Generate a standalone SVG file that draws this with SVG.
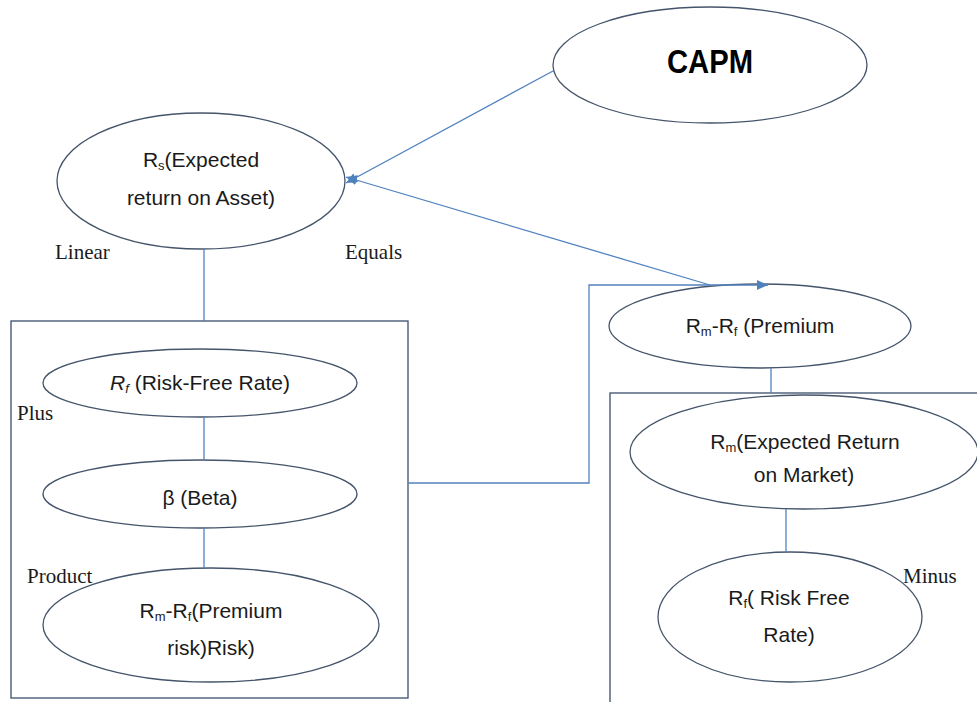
<svg xmlns="http://www.w3.org/2000/svg" width="977" height="702" viewBox="0 0 977 702">
<defs>
<style>
.node{fill:#ffffff;stroke:#44546a;stroke-width:1.3}
.box{fill:none;stroke:#3b4f6d;stroke-width:1.3}
.conn{fill:none;stroke:#5182c0;stroke-width:1.3}
.t{font-family:"Liberation Sans",Arial,sans-serif;font-size:21px;fill:#1a1a1a;text-anchor:middle}
.s{font-size:13px}
.lbl{font-family:"Liberation Serif","Times New Roman",serif;font-size:21px;fill:#1a1a1a}
</style>
<marker id="ah" viewBox="0 0 11 10" refX="11" refY="5" markerWidth="11" markerHeight="10" markerUnits="userSpaceOnUse" orient="auto">
<path d="M0,0 L11,5 L0,10 z" fill="#4f81bd"/>
</marker>
</defs>
<rect width="977" height="702" fill="#ffffff"/>

<g id="boxes">
<rect class="box" x="11" y="321" width="397" height="377"/>
<rect class="box" x="610" y="393" width="400" height="400"/>
</g>

<g id="capm">
<ellipse class="node" cx="710" cy="65" rx="157" ry="58"/>
<text x="710" y="73" font-family="'Liberation Sans',Arial,sans-serif" font-size="33" font-weight="bold" text-anchor="middle" textLength="86" lengthAdjust="spacingAndGlyphs" fill="#000">CAPM</text>
</g>

<g id="rs">
<ellipse class="node" cx="201" cy="181" rx="144" ry="68"/>
<text class="t" x="201" y="167">R<tspan class="s" dy="3">s</tspan><tspan dy="-3">(Expected</tspan></text>
<text class="t" x="201" y="205">return on Asset)</text>
</g>

<g id="rf">
<ellipse class="node" cx="200" cy="383" rx="157" ry="34"/>
<text class="t" x="200" y="390"><tspan font-style="italic">R</tspan><tspan class="s" font-style="italic" dy="3">f</tspan><tspan dy="-3"> (Risk-Free Rate)</tspan></text>
</g>

<g id="beta">
<ellipse class="node" cx="200" cy="494" rx="157" ry="34"/>
<text class="t" x="200" y="505">β (Beta)</text>
</g>

<g id="premiumrisk">
<ellipse class="node" cx="211" cy="625" rx="168" ry="57"/>
<text class="t" x="211" y="618">R<tspan class="s" dy="3">m</tspan><tspan dy="-3">-R</tspan><tspan class="s" dy="3">f</tspan><tspan dy="-3">(Premium</tspan></text>
<text class="t" x="211" y="655">risk)Risk)</text>
</g>

<g id="premium">
<ellipse class="node" cx="760" cy="326" rx="151" ry="42"/>
<text class="t" x="760" y="333">R<tspan class="s" dy="3">m</tspan><tspan dy="-3">-R</tspan><tspan class="s" dy="3">f</tspan><tspan dy="-3"> (Premium</tspan></text>
</g>

<g id="rm">
<ellipse class="node" cx="804" cy="452" rx="174" ry="57"/>
<text class="t" x="805" y="449">R<tspan class="s" dy="3">m</tspan><tspan dy="-3">(Expected Return</tspan></text>
<text class="t" x="804" y="482">on Market)</text>
</g>

<g id="rf2">
<ellipse class="node" cx="790" cy="617" rx="132" ry="65"/>
<text class="t" x="789" y="605">R<tspan class="s" dy="3">f</tspan><tspan dy="-3">( Risk Free</tspan></text>
<text class="t" x="789" y="642">Rate)</text>
</g>

<g id="connectors">
<line class="conn" x1="553" y1="71" x2="346" y2="183" marker-end="url(#ah)"/>
<line class="conn" x1="710" y1="285" x2="346" y2="177" marker-end="url(#ah)"/>
<polyline class="conn" points="408,483 589,483 589,285 768,285" marker-end="url(#ah)"/>
<line class="conn" x1="204" y1="249" x2="204" y2="321"/>
<line class="conn" x1="204" y1="417" x2="204" y2="460"/>
<line class="conn" x1="204" y1="528" x2="204" y2="568"/>
<line class="conn" x1="771" y1="368" x2="771" y2="393"/>
<line class="conn" x1="786" y1="509" x2="786" y2="552"/>
</g>

<g id="labels">
<text class="lbl" x="55" y="259">Linear</text>
<text class="lbl" x="345" y="259">Equals</text>
<text class="lbl" x="17" y="420">Plus</text>
<text class="lbl" x="27" y="583">Product</text>
<text class="lbl" x="903" y="583">Minus</text>
</g>
</svg>
